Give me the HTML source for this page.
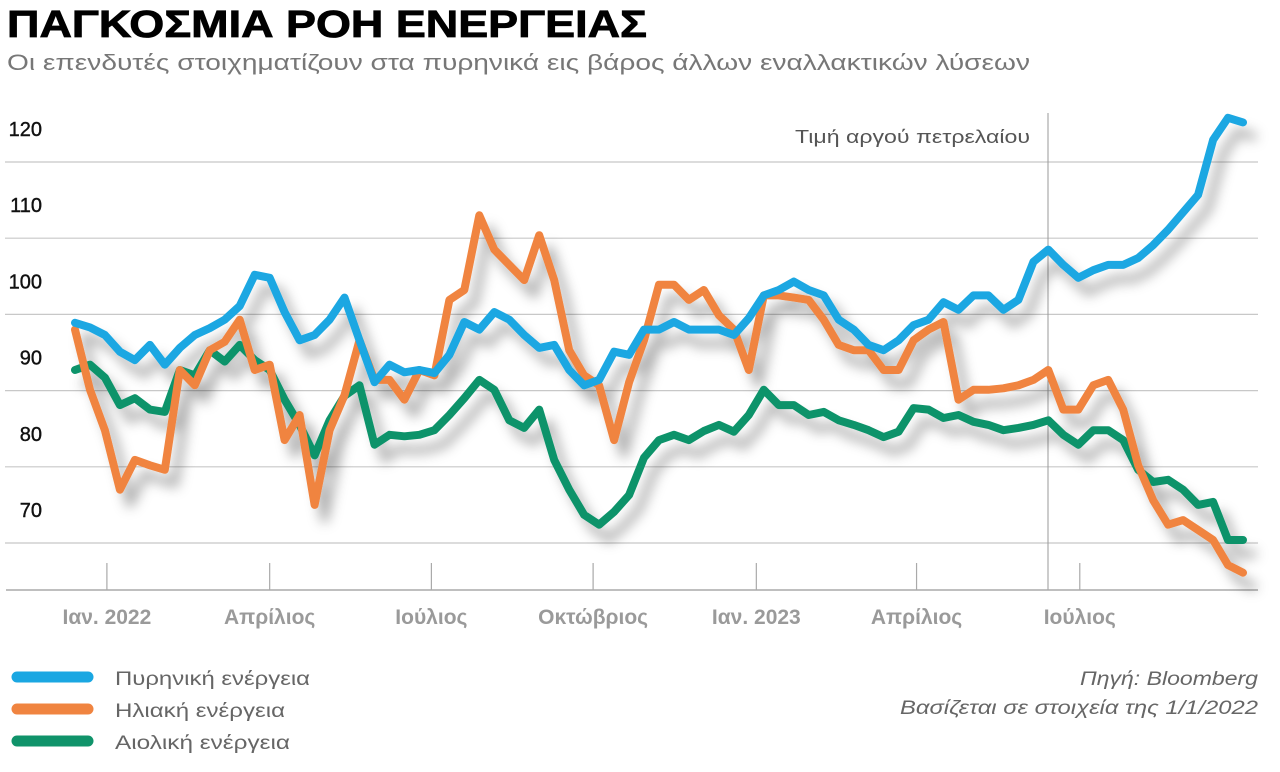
<!DOCTYPE html>
<html><head><meta charset="utf-8">
<style>
html,body{margin:0;padding:0;background:#fff;}
svg{display:block;font-family:"Liberation Sans","DejaVu Sans",sans-serif;}
</style></head>
<body>
<svg id="chart" width="1280" height="772" viewBox="0 0 1280 772" xmlns="http://www.w3.org/2000/svg">
<defs>
<filter id="sh" x="-10%" y="-20%" width="130%" height="150%">
<feDropShadow dx="10" dy="14" stdDeviation="6" flood-color="#000" flood-opacity="0.32"/>
</filter>
</defs>
<text x="7" y="37" font-size="38" font-weight="bold" fill="#000" stroke="#000" stroke-width="0.8" textLength="640" lengthAdjust="spacingAndGlyphs">ΠΑΓΚΟΣΜΙΑ ΡΟΗ ΕΝΕΡΓΕΙΑΣ</text>
<text x="7" y="70" font-size="22" fill="#777" textLength="1023" lengthAdjust="spacingAndGlyphs">Οι επενδυτές στοιχηματίζουν στα πυρηνικά εις βάρος άλλων εναλλακτικών λύσεων</text>
<g id="grid"></g>
<g id="ylabels"></g>
<line x1="1048" y1="113" x2="1048" y2="590" stroke="#999" stroke-width="1"/>
<text x="1030" y="143" font-size="18" fill="#555" text-anchor="end" textLength="235" lengthAdjust="spacingAndGlyphs">Τιμή αργού πετρελαίου</text>
<line x1="6" y1="590" x2="1258" y2="590" stroke="#aaa" stroke-width="1.5"/>
<g id="xaxis"></g>
<g id="series" filter="url(#sh)"></g>
<g>
<line x1="17" y1="677" x2="88" y2="677" stroke="#1aa7e2" stroke-width="11" stroke-linecap="round"/>
<text x="115" y="685" font-size="19" fill="#666" textLength="195" lengthAdjust="spacingAndGlyphs">Πυρηνική ενέργεια</text>
<line x1="17" y1="709" x2="88" y2="709" stroke="#f08440" stroke-width="11" stroke-linecap="round"/>
<text x="115" y="717" font-size="19" fill="#666" textLength="170" lengthAdjust="spacingAndGlyphs">Ηλιακή ενέργεια</text>
<line x1="17" y1="741" x2="88" y2="741" stroke="#10936a" stroke-width="11" stroke-linecap="round"/>
<text x="115" y="749" font-size="19" fill="#666" textLength="175" lengthAdjust="spacingAndGlyphs">Αιολική ενέργεια</text>
</g>
<text x="1258" y="685" font-size="19" font-style="italic" fill="#666" text-anchor="end" textLength="178" lengthAdjust="spacingAndGlyphs">Πηγή: Bloomberg</text>
<text x="1258" y="714" font-size="19" font-style="italic" fill="#666" text-anchor="end" textLength="358" lengthAdjust="spacingAndGlyphs">Βασίζεται σε στοιχεία της 1/1/2022</text>
</svg>
<script>
const yTicks = [120, 110, 100, 90, 80, 70];
const monthLabels = ["Ιαν. 2022", "Απρίλιος", "Ιούλιος", "Οκτώβριος", "Ιαν. 2023", "Απρίλιος", "Ιούλιος"];
const monthTickIndex = [2.13, 13.0, 23.8, 34.6, 45.5, 56.2, 67.1];
const nuclear = [98.9,98.3,97.3,95.1,94.0,96.0,93.4,95.6,97.3,98.2,99.3,101.1,105.2,104.8,100.3,96.6,97.3,99.3,102.2,96.6,91.1,93.4,92.4,92.7,92.3,94.7,99.0,98.0,100.3,99.3,97.3,95.6,96.0,92.7,90.7,91.4,95.1,94.7,98.0,98.0,99.0,98.0,98.0,98.0,97.3,99.5,102.5,103.2,104.3,103.2,102.5,99.3,98.0,96.0,95.3,96.6,98.6,99.3,101.6,100.6,102.5,102.5,100.6,101.9,106.9,108.5,106.5,104.8,105.8,106.5,106.5,107.4,109.1,111.1,113.4,115.7,122.9,125.8,125.2];
const solar = [98.0,90.1,84.8,77.0,80.9,80.2,79.6,92.7,90.7,95.3,96.4,99.3,92.7,93.4,83.5,86.8,75.0,84.8,89.4,96.6,91.4,91.4,88.8,92.7,92.0,101.9,103.2,113.0,108.5,106.5,104.5,110.4,104.5,95.3,92.0,90.7,83.5,91.1,96.6,103.9,103.9,101.9,103.2,99.9,98.0,92.7,102.5,102.5,102.2,101.9,99.3,96.0,95.3,95.3,92.7,92.7,96.6,98.0,99.0,88.8,90.1,90.1,90.3,90.7,91.4,92.7,87.5,87.5,90.7,91.4,87.5,80.2,75.6,72.4,73.0,71.7,70.4,67.1,66.1];
const wind = [92.7,93.4,91.7,88.1,89.0,87.5,87.2,92.7,92.0,95.3,93.8,96.0,94.0,92.7,88.8,85.5,81.5,86.1,89.3,90.7,82.9,84.2,84.0,84.2,84.8,86.8,89.0,91.4,90.1,86.1,85.1,87.5,80.9,77.0,73.7,72.4,74.1,76.3,81.2,83.5,84.2,83.5,84.7,85.5,84.6,86.8,90.1,88.1,88.1,86.8,87.2,86.1,85.5,84.8,83.9,84.6,87.7,87.5,86.4,86.8,85.9,85.5,84.8,85.1,85.5,86.1,84.2,82.9,84.8,84.8,83.5,79.6,78.0,78.3,77.0,75.0,75.4,70.4,70.4];

const NS = "http://www.w3.org/2000/svg";
const X0 = 75, X1 = 1243;
const nPts = nuclear.length;
function xScale(i){ return X0 + (X1 - X0) * i / (nPts - 1); }
function yScale(v){ return 162 + (120 - v) * 7.62; }

const grid = document.getElementById('grid');
const ylab = document.getElementById('ylabels');
yTicks.forEach(function(t){
  const y = yScale(t);
  const ln = document.createElementNS(NS,'line');
  
  
  ln.setAttribute('x1',5); ln.setAttribute('x2',1258);
  ln.setAttribute('y1',y); ln.setAttribute('y2',y);
  ln.setAttribute('stroke','#c8c8c8'); ln.setAttribute('stroke-width','1.2');
  grid.appendChild(ln);
  const tx = document.createElementNS(NS,'text');
  
  
  tx.setAttribute('x', 42); tx.setAttribute('y', y - 26);
  tx.setAttribute('text-anchor','end');
  tx.setAttribute('font-size','20'); tx.setAttribute('fill','#111');
  tx.setAttribute('stroke','#111'); tx.setAttribute('stroke-width','0.4');
  tx.textContent = t;
  ylab.appendChild(tx);
});

const xa = document.getElementById('xaxis');
monthLabels.forEach(function(m, k){
  const x = xScale(monthTickIndex[k]);
  const tk = document.createElementNS(NS,'line');
  
  
  tk.setAttribute('x1',x); tk.setAttribute('x2',x);
  tk.setAttribute('y1',563); tk.setAttribute('y2',590);
  tk.setAttribute('stroke','#aaa'); tk.setAttribute('stroke-width','1.2');
  xa.appendChild(tk);
  const tx = document.createElementNS(NS,'text');
  
  
  tx.setAttribute('x', x); tx.setAttribute('y', 624);
  tx.setAttribute('text-anchor','middle');
  tx.setAttribute('font-size','21'); tx.setAttribute('font-weight','bold');
  tx.setAttribute('fill','#9a9a9a');
  tx.textContent = m;
  xa.appendChild(tx);
});

const ser = document.getElementById('series');
function drawSeries(arr, color, name){
  let d = '';
  arr.forEach(function(v,i){ d += (i ? 'L' : 'M') + xScale(i).toFixed(1) + ',' + yScale(v).toFixed(1); });
  const p = document.createElementNS(NS,'path');
  
  
  p.setAttribute('d', d);
  p.setAttribute('fill','none');
  p.setAttribute('stroke', color);
  p.setAttribute('stroke-width','8');
  p.setAttribute('stroke-linejoin','round');
  p.setAttribute('stroke-linecap','round');
  ser.appendChild(p);
}
drawSeries(wind, '#10936a', 'wind-line');
drawSeries(solar, '#f08440', 'solar-line');
drawSeries(nuclear, '#1aa7e2', 'nuclear-line');
</script>
</body></html>
